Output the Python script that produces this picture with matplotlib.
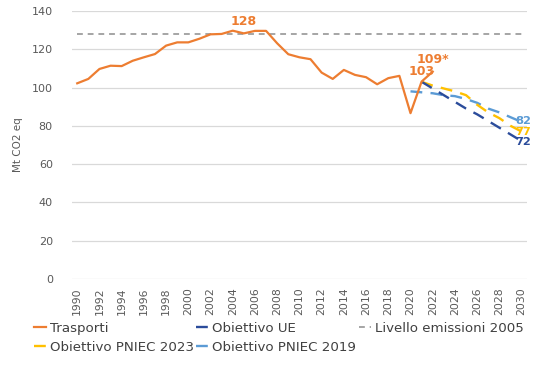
import numpy as np
import matplotlib
matplotlib.use("Agg")
import matplotlib.pyplot as plt

# Data
years = list(range(1990, 2023))
trasporti = [102.2, 104.5, 109.7, 111.4, 111.2, 114.0, 115.8, 117.5, 121.9, 123.6,
             123.6, 125.5, 127.8, 128.0, 129.7, 128.3, 129.6, 129.6, 123.1, 117.4,
             115.8, 114.8, 107.8, 104.5, 109.2, 106.6, 105.4, 101.7, 104.9, 106.1,
             86.6, 103.1, 108.3]

ue_years = list(range(2021, 2031))
obiettivo_ue = [103.0, 99.5, 96.0, 92.5, 89.0, 86.0, 82.5, 79.0, 75.5, 72.0]

pniec23_years = list(range(2021, 2031))
pniec_2023 = [103.0, 101.0, 99.5, 98.0, 96.0, 91.0, 87.0, 84.0, 80.0, 77.0]

pniec19_years = list(range(2020, 2031))
pniec_2019 = [98.0, 97.5, 97.0, 96.0, 95.5, 94.0, 92.0, 89.0, 87.0, 84.5, 82.0]

livello_2005 = 128
xticks = list(range(1990, 2031, 2))
yticks = list(range(0, 141, 20))

ORANGE = "#ED7D31"
DARK_BLUE = "#2B4C9B"
LIGHT_BLUE = "#5B9BD5"
YELLOW = "#FFC000"
GREY = "#A5A5A5"
TXT = "#595959"

fig = plt.figure(figsize=(5.39, 3.66), dpi=100)
ax = fig.add_axes([0.134, 0.238, 0.844, 0.732])

ax.plot([1990, 2030], [livello_2005, livello_2005], color=GREY, lw=1.4,
        dashes=(3, 2.5), label="Livello emissioni 2005")
ax.plot(pniec19_years, pniec_2019, color=LIGHT_BLUE, lw=1.7, dashes=(5, 3.5),
        label="Obiettivo PNIEC 2019")
ax.plot(pniec23_years, pniec_2023, color=YELLOW, lw=1.7, dashes=(5, 3.5),
        label="Obiettivo PNIEC 2023")
ax.plot(ue_years, obiettivo_ue, color=DARK_BLUE, lw=1.7, dashes=(5, 3.5),
        label="Obiettivo UE")
ax.plot(years, trasporti, color=ORANGE, lw=1.6, label="Trasporti")

# annotations
ax.text(2005, 131, "128", color=ORANGE, fontsize=9, fontweight="bold", ha="center", va="bottom")
ax.text(2021.0, 105, "103", color=ORANGE, fontsize=9, fontweight="bold", ha="center", va="bottom")
ax.text(2022.0, 111, "109*", color=ORANGE, fontsize=9, fontweight="bold", ha="center", va="bottom")
ax.text(2029.4, 82.5, "82", color=LIGHT_BLUE, fontsize=8.2, fontweight="bold", ha="left", va="center")
ax.text(2029.4, 77, "77", color=YELLOW, fontsize=8.2, fontweight="bold", ha="left", va="center")
ax.text(2029.4, 71.5, "72", color=DARK_BLUE, fontsize=8.2, fontweight="bold", ha="left", va="center")

ax.set_xlim(1989.55, 2030.5)
ax.set_ylim(0, 140)
ax.set_xticks(xticks)
ax.set_xticklabels([str(y) for y in xticks], rotation=90, fontsize=7.8, color=TXT)
ax.set_yticks(yticks)
ax.set_yticklabels([str(y) for y in yticks], fontsize=8, color=TXT)
ax.tick_params(length=0, pad=6)
ax.tick_params(axis="y", pad=14)
ax.grid(axis="y", color="#D9D9D9", lw=0.9)
ax.set_axisbelow(True)
for s in ax.spines.values():
    s.set_visible(False)
ax.set_ylabel("Mt CO2 eq", fontsize=7.5, color=TXT, labelpad=6)

handles, labels = ax.get_legend_handles_labels()
order = ["Trasporti", "Obiettivo PNIEC 2023", "Obiettivo UE", "Obiettivo PNIEC 2019",
         "Livello emissioni 2005"]
hmap = dict(zip(labels, handles))
leg = fig.legend([hmap[k] for k in order], order, ncol=3, loc="lower left",
                 bbox_to_anchor=(0.04, 0.0), frameon=False, fontsize=9.6,
                 handlelength=0.9, handletextpad=0.3, columnspacing=0.2,
                 labelspacing=0.45)
for t in leg.get_texts():
    t.set_color("#404040")

fig.savefig("out.png", dpi=100)
